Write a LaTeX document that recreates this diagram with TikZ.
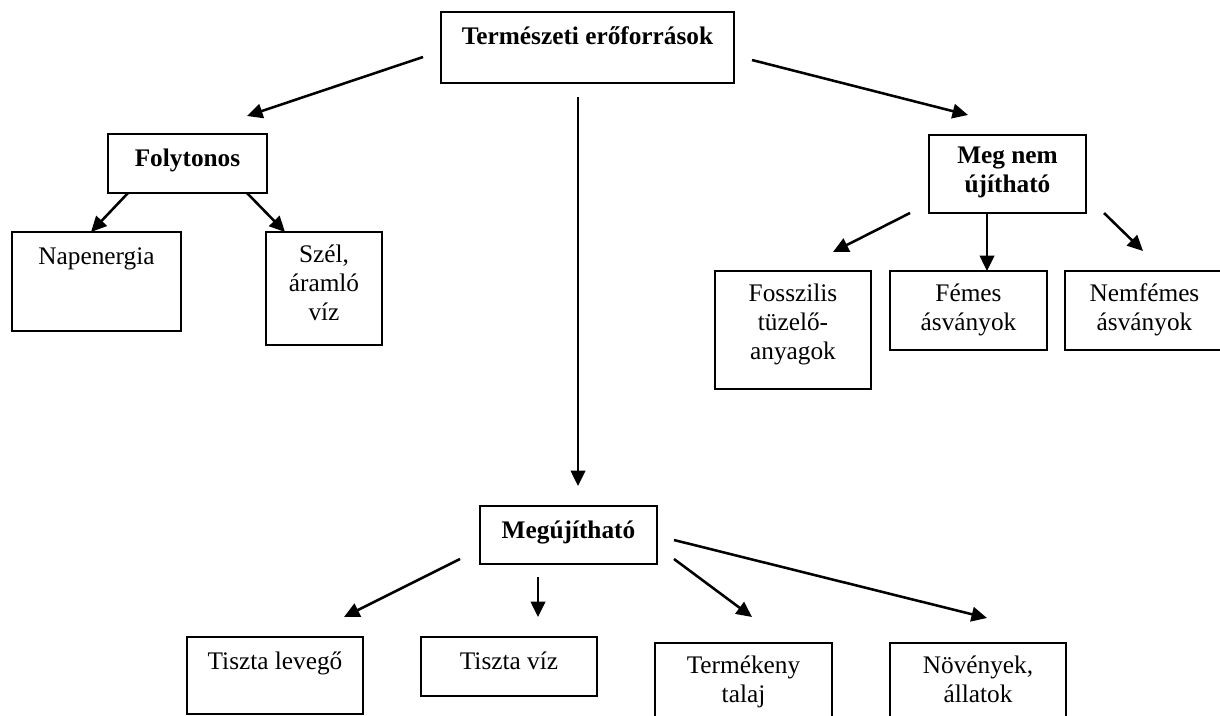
\documentclass[tikz,border=0pt]{standalone}
\usepackage{fontspec}
\setmainfont{Liberation Serif}
\usetikzlibrary{arrows.meta}

\newcommand{\boxfont}{\fontsize{14.4}{16.5}\selectfont}

\begin{document}
\begin{tikzpicture}[>={Triangle[length=3.1mm, width=2.9mm]}, x=0.2mm, y=-0.2mm,
  box/.style={draw, line width=1pt, inner sep=0pt},
  txt/.style={anchor=north, inner sep=0pt, align=center, font=\boxfont, execute at begin node=\strut},
  head/.style={txt, font=\boxfont\bfseries},
  arr/.style={->, line width=1.45pt}]

% Page (1 unit = 1 px of the 1220 x 715 sheet)
\useasboundingbox (0,0) rectangle (1220,715);

% Main box
\node[box, minimum width=58.6mm, minimum height=14.2mm] (ter) at (587.5,47.5) {};
\node[head] (ter-t) at ([yshift=-2.64mm]ter.north) {Természeti erőforrások};

% Left branch
\node[box, minimum width=31.8mm, minimum height=11.8mm] (foly) at (187.5,163.5) {};
\node[head] (foly-t) at ([yshift=-2.64mm]foly.north) {Folytonos};

\node[box, minimum width=33.8mm, minimum height=19.8mm] (nap) at (96.5,281.5) {};
\node[txt] (nap-t) at ([yshift=-2.64mm]nap.north) {Napenergia};

\node[box, minimum width=23.2mm, minimum height=22.6mm] (szel) at (324,288.5) {};
\node[txt] (szel-t) at ([yshift=-2.64mm]szel.north) {Szél,\\áramló\\víz};

% Right branch
\node[box, minimum width=31.4mm, minimum height=15.6mm] (megnem) at (1007.5,174) {};
\node[head] (megnem-t) at ([yshift=-2.5mm]megnem.north) {Meg nem\\újítható};

\node[box, minimum width=31.2mm, minimum height=23.6mm] (foss) at (793,330) {};
\node[txt] (foss-t) at ([yshift=-2.64mm]foss.north) {Fosszilis\\tüzelő-\\anyagok};

\node[box, minimum width=31.4mm, minimum height=15.8mm] (fem) at (968.5,310.5) {};
\node[txt] (fem-t) at ([yshift=-2.64mm]fem.north) {Fémes\\ásványok};

\node[box, minimum width=31.8mm, minimum height=15.8mm] (nemfem) at (1144.5,310.5) {};
\node[txt] (nemfem-t) at ([yshift=-2.64mm]nemfem.north) {Nemfémes\\ásványok};

% Lower branch
\node[box, minimum width=35.4mm, minimum height=11.6mm] (meguj) at (568.5,535) {};
\node[head] (meguj-t) at ([yshift=-2.64mm]meguj.north) {Megújítható};

\node[box, minimum width=35.2mm, minimum height=15.4mm] (levego) at (275,675.5) {};
\node[txt] (levego-t) at ([yshift=-2.64mm]levego.north) {Tiszta levegő};

\node[box, minimum width=35.2mm, minimum height=11.8mm] (tviz) at (509,666.5) {};
\node[txt] (tviz-t) at ([yshift=-2.64mm]tviz.north) {Tiszta víz};

\node[box, minimum width=35.4mm, minimum height=18mm] (talaj) at (743.5,688) {};
\node[txt] (talaj-t) at ([yshift=-2.64mm]talaj.north) {Termékeny\\talaj};

\node[box, minimum width=35.2mm, minimum height=18mm] (noveny) at (978,688) {};
\node[txt] (noveny-t) at ([yshift=-2.64mm]noveny.north) {Növények,\\állatok};

% Arrow ends
\coordinate (ter-l) at (423,57);    \coordinate (foly-in) at (247,116);
\coordinate (ter-r) at (752,60);    \coordinate (megnem-in) at (968,115);
\coordinate (ter-d) at (578,97);    \coordinate (meguj-in) at (578,486);
\coordinate (foly-l) at (128,193);  \coordinate (nap-in) at (91,232);
\coordinate (foly-r) at (247,193);  \coordinate (szel-in) at (285,232);
\coordinate (megnem-l) at (910,213);  \coordinate (foss-in) at (833,252);
\coordinate (megnem-d) at (987,213);  \coordinate (fem-in) at (987,271);
\coordinate (megnem-r) at (1104,213); \coordinate (nemfem-in) at (1143,251);
\coordinate (meguj-l) at (460,559);   \coordinate (levego-in) at (344,617);
\coordinate (meguj-d) at (538,577);   \coordinate (tviz-in) at (538,617);
\coordinate (meguj-r) at (674,559);   \coordinate (talaj-in) at (752,617);
\coordinate (meguj-rr) at (674,540);  \coordinate (noveny-in) at (987,618);

% Arrows
\draw[arr] (ter-l) -- (foly-in);
\draw[arr] (ter-r) -- (megnem-in);
\draw[arr] (ter-d) -- (meguj-in);
\draw[arr] (foly-l) -- (nap-in);
\draw[arr] (foly-r) -- (szel-in);
\draw[arr] (megnem-l) -- (foss-in);
\draw[arr] (megnem-d) -- (fem-in);
\draw[arr] (megnem-r) -- (nemfem-in);
\draw[arr] (meguj-l) -- (levego-in);
\draw[arr] (meguj-d) -- (tviz-in);
\draw[arr] (meguj-r) -- (talaj-in);
\draw[arr] (meguj-rr) -- (noveny-in);

\end{tikzpicture}
\end{document}
